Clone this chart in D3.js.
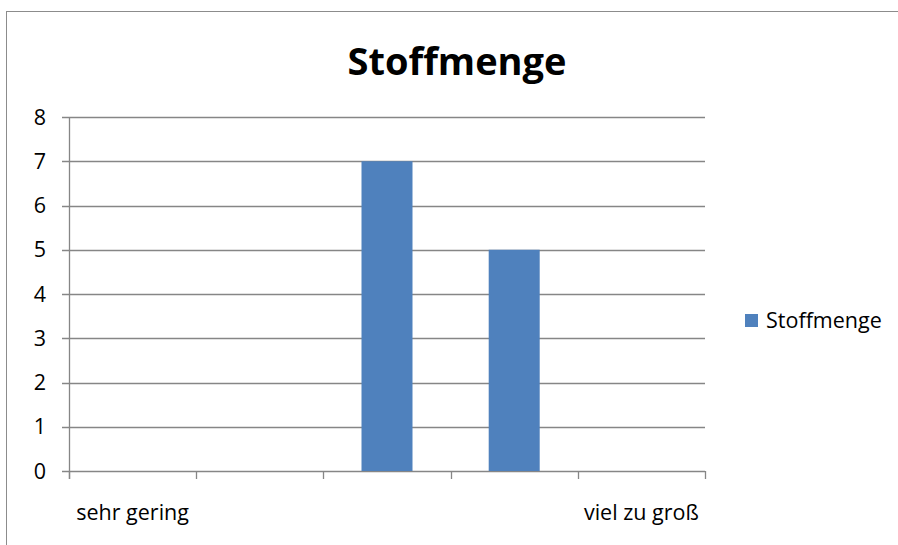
<!DOCTYPE html>
<html>
<head>
<meta charset="utf-8">
<script src="https://cdn.jsdelivr.net/npm/d3@7"></script>
<style>
  body { margin: 0; background: #fff; }
  text { font-family: "Open Sans", sans-serif; fill: #000; }
</style>
</head>
<body>
<div id="chart"></div>
<script>
// Data
const categories = ["sehr gering", "", "", "", "viel zu groß"];
const values = [0, 0, 7, 5, 0];
const seriesName = "Stoffmenge";
const yTicks = [0, 1, 2, 3, 4, 5, 6, 7, 8];

const width = 898, height = 545;
const plot = { left: 69, right: 705, top: 117, bottom: 471 };

const svg = d3.select("#chart")
  .append("svg")
  .attr("width", width)
  .attr("height", height);

// outer chart frame
svg.append("rect")
  .attr("x", 6.5).attr("y", 11.5)
  .attr("width", 900).attr("height", 600)
  .attr("fill", "none")
  .attr("stroke", "#8c8c8c")
  .attr("stroke-width", 1);

const x = d3.scaleBand()
  .domain(d3.range(categories.length))
  .range([plot.left, plot.right])
  .paddingInner(0)
  .paddingOuter(0);

const y = d3.scaleLinear()
  .domain([0, 8])
  .range([plot.bottom, plot.top]);

// gridlines
svg.append("g")
  .selectAll("line")
  .data(yTicks)
  .enter()
  .append("line")
  .attr("x1", plot.left - 7)
  .attr("x2", plot.right)
  .attr("y1", d => Math.round(y(d)) + 0.5)
  .attr("y2", d => Math.round(y(d)) + 0.5)
  .attr("stroke", "#868686")
  .attr("stroke-width", 1.3);

// y labels
svg.append("g")
  .selectAll("text")
  .data(yTicks)
  .enter()
  .append("text")
  .attr("x", 46)
  .attr("y", d => y(d))
  .attr("dy", "0.36em")
  .attr("text-anchor", "end")
  .style("font-size", "21.5px")
  .text(d => d);

// y axis line
svg.append("line")
  .attr("x1", plot.left + 0.5).attr("x2", plot.left + 0.5)
  .attr("y1", plot.top).attr("y2", plot.bottom + 8)
  .attr("stroke", "#868686")
  .attr("stroke-width", 1.3);

// x tick marks at category boundaries
const boundaries = d3.range(categories.length + 1).map(i => plot.left + i * x.bandwidth());
svg.append("g")
  .selectAll("line")
  .data(boundaries)
  .enter()
  .append("line")
  .attr("x1", d => Math.round(d) + 0.5)
  .attr("x2", d => Math.round(d) + 0.5)
  .attr("y1", plot.bottom)
  .attr("y2", plot.bottom + 8)
  .attr("stroke", "#868686")
  .attr("stroke-width", 1.3);

// bars
const barWidth = 51;
svg.append("g")
  .selectAll("rect")
  .data(values)
  .enter()
  .append("rect")
  .attr("x", (d, i) => x(i) + x.bandwidth() / 2 - barWidth / 2)
  .attr("y", d => y(d))
  .attr("width", barWidth)
  .attr("height", d => plot.bottom - y(d))
  .attr("fill", "#4f81bd");

// x labels
svg.append("g")
  .selectAll("text")
  .data(categories)
  .enter()
  .append("text")
  .attr("x", (d, i) => x(i) + x.bandwidth() / 2)
  .attr("y", 520)
  .attr("text-anchor", "middle")
  .style("font-size", "21.5px")
  .text(d => d);

// title
svg.append("text")
  .attr("x", 457)
  .attr("y", 75)
  .attr("text-anchor", "middle")
  .style("font-size", "38px")
  .style("font-weight", "bold")
  .text(seriesName);

// legend
const legend = svg.append("g").attr("transform", "translate(745,314)");
legend.append("rect")
  .attr("width", 13).attr("height", 13)
  .attr("fill", "#4f81bd");
legend.append("text")
  .attr("x", 21)
  .attr("y", 14)
  .style("font-size", "21.5px")
  .text(seriesName);
</script>
</body>
</html>
